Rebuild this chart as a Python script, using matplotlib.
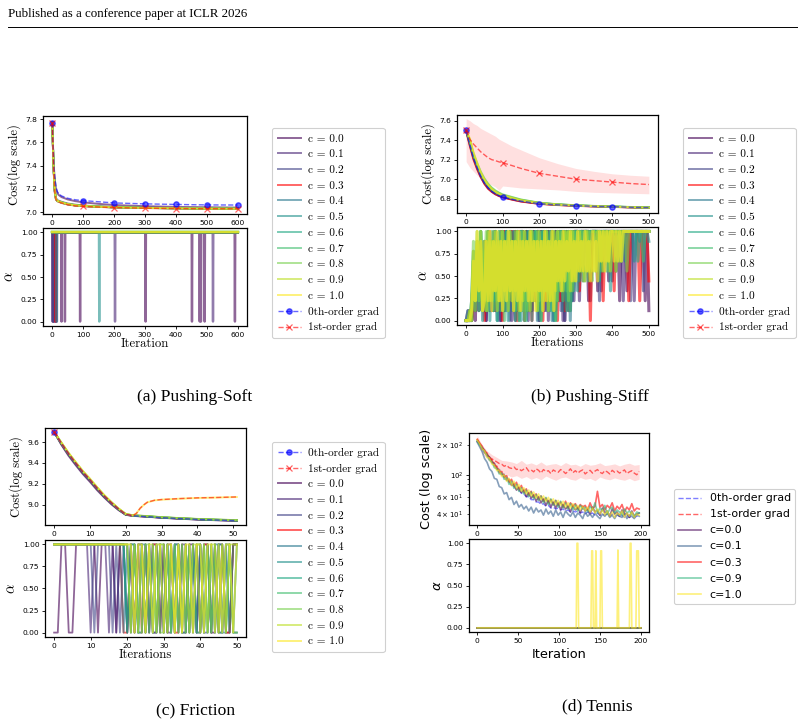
import numpy as np
import matplotlib
matplotlib.use("Agg")
import matplotlib.pyplot as plt
from matplotlib.lines import Line2D

# ====================== DATA ======================
C_VALUES = [0.0, 0.1, 0.2, 0.3, 0.4, 0.5, 0.6, 0.7, 0.8, 0.9, 1.0]
C_LABELS = ["c = %.1f" % c for c in C_VALUES]

# ---- (a) Pushing-Soft ----
SOFT_X = [0, 4, 8, 12, 16, 20, 30, 50, 75, 100, 150, 200, 300, 400, 500, 600]
SOFT_MARK_IDX = [0, 9, 11, 12, 13, 14, 15]
SOFT_ZEROTH = [7.77, 7.45, 7.30, 7.22, 7.18, 7.16, 7.14, 7.12, 7.107, 7.10, 7.09, 7.08, 7.072, 7.067, 7.063, 7.062]
SOFT_FIRST = [7.77, 7.40, 7.18, 7.11, 7.095, 7.09, 7.08, 7.065, 7.055, 7.05, 7.045, 7.04, 7.035, 7.032, 7.03, 7.03]
SOFT_C00 = [7.77, 7.43, 7.28, 7.20, 7.17, 7.15, 7.13, 7.11, 7.095, 7.085, 7.072, 7.062, 7.052, 7.046, 7.043, 7.04]
SOFT_C01 = [7.77, 7.40, 7.19, 7.12, 7.105, 7.10, 7.09, 7.075, 7.065, 7.058, 7.05, 7.045, 7.04, 7.036, 7.033, 7.032]
SOFT_C02 = [7.77, 7.39, 7.18, 7.115, 7.10, 7.095, 7.085, 7.07, 7.06, 7.055, 7.048, 7.043, 7.038, 7.034, 7.032, 7.031]
SOFT_C03 = [7.77, 7.38, 7.17, 7.11, 7.095, 7.09, 7.08, 7.066, 7.057, 7.052, 7.046, 7.041, 7.036, 7.033, 7.031, 7.03]
SOFT_C04 = [7.77, 7.39, 7.18, 7.112, 7.097, 7.092, 7.082, 7.068, 7.058, 7.053, 7.047, 7.042, 7.037, 7.034, 7.031, 7.03]
SOFT_C05 = [7.77, 7.40, 7.185, 7.113, 7.098, 7.093, 7.083, 7.069, 7.059, 7.054, 7.047, 7.042, 7.037, 7.034, 7.032, 7.031]
SOFT_C06 = [7.77, 7.40, 7.19, 7.114, 7.099, 7.094, 7.084, 7.07, 7.06, 7.054, 7.048, 7.043, 7.038, 7.034, 7.032, 7.031]
SOFT_C07 = [7.77, 7.41, 7.19, 7.115, 7.10, 7.095, 7.085, 7.07, 7.06, 7.055, 7.048, 7.043, 7.038, 7.035, 7.032, 7.031]
SOFT_C08 = [7.77, 7.41, 7.195, 7.116, 7.10, 7.095, 7.085, 7.071, 7.061, 7.055, 7.049, 7.044, 7.038, 7.035, 7.033, 7.032]
SOFT_C09 = [7.77, 7.40, 7.19, 7.115, 7.10, 7.094, 7.084, 7.07, 7.06, 7.054, 7.048, 7.043, 7.038, 7.034, 7.032, 7.031]
SOFT_C10 = [7.77, 7.41, 7.19, 7.114, 7.099, 7.093, 7.083, 7.069, 7.059, 7.053, 7.047, 7.042, 7.037, 7.033, 7.031, 7.03]
SOFT_C = [SOFT_C00, SOFT_C01, SOFT_C02, SOFT_C03, SOFT_C04, SOFT_C05,
          SOFT_C06, SOFT_C07, SOFT_C08, SOFT_C09, SOFT_C10]
SOFT_N_ITERS = 601
# iterations at which alpha dropped to 0 (alpha = 1 elsewhere)
SOFT_ALPHA_DROPS = [
    [2, 3, 4, 5, 6, 7, 8, 9, 11, 12, 30, 41, 90, 302, 452, 477, 481, 493, 591],
    [1, 5, 203, 520],
    [3, 13, 15],
    [10],
    [14],
    [152],
    [], [], [], [], [],
]

# ---- (b) Pushing-Stiff ----
STIFF_X = [0, 10, 20, 30, 40, 50, 60, 70, 80, 90, 100, 125, 150, 200, 250, 300, 350, 400, 450, 500]
STIFF_MARK_IDX = [0, 10, 13, 15, 17]
STIFF_ZEROTH = [7.50, 7.36, 7.22, 7.12, 7.03, 6.96, 6.91, 6.875, 6.85, 6.83, 6.817, 6.795, 6.775, 6.749, 6.737, 6.728, 6.722, 6.718, 6.712, 6.708]
STIFF_FIRST = [7.50, 7.41, 7.36, 7.32, 7.28, 7.25, 7.22, 7.20, 7.19, 7.177, 7.168, 7.14, 7.11, 7.06, 7.03, 7.00, 6.985, 6.97, 6.955, 6.945]
STIFF_FIRST_HI = [7.62, 7.60, 7.57, 7.55, 7.52, 7.50, 7.48, 7.46, 7.44, 7.41, 7.39, 7.34, 7.30, 7.22, 7.16, 7.11, 7.08, 7.055, 7.04, 7.03]
STIFF_FIRST_LO = [7.18, 7.12, 7.08, 7.04, 7.01, 6.98, 6.96, 6.94, 6.92, 6.885, 6.93, 6.92, 6.91, 6.90, 6.89, 6.875, 6.865, 6.86, 6.855, 6.85]
STIFF_C00 = [7.50, 7.35, 7.21, 7.11, 7.02, 6.955, 6.905, 6.87, 6.845, 6.828, 6.815, 6.792, 6.772, 6.748, 6.736, 6.727, 6.721, 6.716, 6.711, 6.707]
STIFF_C01 = [7.50, 7.36, 7.22, 7.115, 7.03, 6.96, 6.91, 6.875, 6.85, 6.83, 6.816, 6.794, 6.774, 6.749, 6.737, 6.728, 6.722, 6.717, 6.712, 6.708]
STIFF_C02 = [7.50, 7.36, 7.225, 7.12, 7.035, 6.965, 6.915, 6.88, 6.853, 6.833, 6.819, 6.796, 6.776, 6.75, 6.738, 6.729, 6.722, 6.717, 6.712, 6.708]
STIFF_C03 = [7.49, 7.34, 7.20, 7.10, 7.02, 6.95, 6.90, 6.87, 6.845, 6.826, 6.813, 6.79, 6.77, 6.746, 6.734, 6.726, 6.72, 6.715, 6.71, 6.706]
STIFF_C04 = [7.50, 7.37, 7.23, 7.13, 7.04, 6.97, 6.92, 6.885, 6.86, 6.84, 6.825, 6.80, 6.78, 6.752, 6.739, 6.73, 6.723, 6.718, 6.713, 6.709]
STIFF_C05 = [7.50, 7.38, 7.24, 7.14, 7.05, 6.98, 6.93, 6.89, 6.865, 6.845, 6.83, 6.805, 6.783, 6.754, 6.74, 6.73, 6.724, 6.719, 6.713, 6.709]
STIFF_C06 = [7.50, 7.39, 7.25, 7.15, 7.06, 6.99, 6.94, 6.90, 6.87, 6.85, 6.835, 6.81, 6.786, 6.756, 6.741, 6.731, 6.724, 6.719, 6.714, 6.709]
STIFF_C07 = [7.50, 7.40, 7.26, 7.16, 7.07, 7.00, 6.95, 6.91, 6.88, 6.86, 6.84, 6.815, 6.79, 6.758, 6.742, 6.732, 6.725, 6.72, 6.714, 6.71]
STIFF_C08 = [7.50, 7.41, 7.27, 7.17, 7.08, 7.01, 6.955, 6.915, 6.885, 6.862, 6.845, 6.818, 6.792, 6.759, 6.743, 6.733, 6.726, 6.72, 6.715, 6.71]
STIFF_C09 = [7.50, 7.40, 7.26, 7.15, 7.06, 6.99, 6.94, 6.90, 6.87, 6.85, 6.835, 6.81, 6.785, 6.755, 6.74, 6.73, 6.724, 6.719, 6.713, 6.709]
STIFF_C10 = [7.50, 7.42, 7.28, 7.17, 7.07, 6.995, 6.94, 6.90, 6.87, 6.848, 6.832, 6.806, 6.782, 6.752, 6.738, 6.729, 6.723, 6.718, 6.712, 6.708]
STIFF_C = [STIFF_C00, STIFF_C01, STIFF_C02, STIFF_C03, STIFF_C04, STIFF_C05,
           STIFF_C06, STIFF_C07, STIFF_C08, STIFF_C09, STIFF_C10]
# alpha read every 5 iterations; each digit d means alpha = d / 9
STIFF_ALPHA_STEP = 5
STIFF_ALPHA = [
    "0010305172" "6082719380" "9193929092" "9909193929" "0949293919" "2939094929" "9949999299" "9939999949" "9999299939" "9999999929" "1",
    "0100417263" "8071829280" "9182903918" "1929091939" "9291909481" "9290939192" "9929999949" "9999399999" "4999992999" "9929999999" "9",
    "0001527182" "1738291809" "2918092939" "1909291829" "0939192909" "3919092939" "9999499929" "9992999999" "9959999999" "2999999399" "9",
    "0010216273" "0829181729" "0938291909" "2919390929" "1909293919" "0929191939" "9939999909" "9999929999" "9399999992" "9999929999" "4",
    "0100637281" "6291829083" "9193918290" "9281919390" "9293919082" "9391929094" "9999599959" "9999959999" "9959999699" "9999989999" "9",
    "0002718290" "7190829182" "9390928193" "0919290939" "1928391909" "2939491929" "9399949999" "9959999993" "9999969999" "9969999999" "8",
    "0001527392" "8192819093" "8291839092" "9180939291" "9093918290" "9393919493" "9949999599" "9994999599" "9999699999" "9999699999" "9",
    "0010628193" "7283918291" "9082938190" "9291829391" "8093929180" "9492939194" "9595999499" "9999599969" "9969999999" "9999999699" "9",
    "0002819271" "3918293829" "1829381928" "1908192839" "2819382918" "2939492939" "4959495954" "9599696959" "9999969959" "9999999999" "9",
    "0010728391" "8192839182" "9381928391" "8293819281" "9382918293" "9483959394" "8595849585" "9596959695" "9959699999" "9999999999" "9",
    "0001629381" "2829183928" "1829381829" "1838292818" "3819282918" "4839485948" "4958595849" "5849695969" "9696969999" "9999999999" "9",
]

# ---- (c) Friction ----
FRIC_X = [0, 2, 4, 6, 8, 10, 12, 14, 16, 18, 20, 22, 23, 24, 25, 26, 28, 30, 35, 40, 45, 51]
FRIC_ZEROTH = [9.696, 9.59, 9.49, 9.40, 9.315, 9.24, 9.16, 9.085, 9.02, 8.96, 8.91, 8.897, 8.894, 8.892, 8.89, 8.888, 8.883, 8.878, 8.87, 8.862, 8.856, 8.85]
FRIC_FIRST = [9.696, 9.59, 9.49, 9.40, 9.315, 9.24, 9.16, 9.085, 9.02, 8.96, 8.91, 8.897, 8.92, 8.968, 9.00, 9.025, 9.044, 9.051, 9.06, 9.067, 9.07, 9.076]
FRIC_C00 = [9.696, 9.575, 9.47, 9.38, 9.295, 9.22, 9.14, 9.07, 9.005, 8.95, 8.905, 8.895, 8.893, 8.891, 8.889, 8.887, 8.882, 8.877, 8.868, 8.86, 8.854, 8.848]
FRIC_C01 = [9.696, 9.58, 9.478, 9.388, 9.302, 9.228, 9.148, 9.075, 9.01, 8.953, 8.906, 8.896, 8.894, 8.892, 8.89, 8.888, 8.883, 8.878, 8.869, 8.861, 8.855, 8.849]
FRIC_C02 = [9.696, 9.583, 9.482, 9.392, 9.307, 9.232, 9.152, 9.078, 9.013, 8.955, 8.907, 8.897, 8.895, 8.893, 8.891, 8.889, 8.884, 8.879, 8.87, 8.862, 8.856, 8.85]
FRIC_C03 = [9.696, 9.585, 9.485, 9.395, 9.31, 9.235, 9.155, 9.08, 9.015, 8.957, 8.908, 8.897, 8.895, 8.893, 8.891, 8.889, 8.884, 8.879, 8.871, 8.863, 8.857, 8.851]
FRIC_C04 = [9.696, 9.587, 9.487, 9.397, 9.312, 9.237, 9.157, 9.082, 9.017, 8.958, 8.909, 8.898, 8.896, 8.894, 8.892, 8.89, 8.885, 8.88, 8.871, 8.863, 8.857, 8.851]
FRIC_C05 = [9.696, 9.589, 9.489, 9.399, 9.314, 9.239, 9.159, 9.084, 9.019, 8.959, 8.91, 8.899, 8.897, 8.894, 8.892, 8.89, 8.885, 8.88, 8.872, 8.864, 8.858, 8.852]
FRIC_C06 = [9.696, 9.59, 9.49, 9.40, 9.315, 9.24, 9.16, 9.085, 9.02, 8.96, 8.91, 8.899, 8.897, 8.895, 8.893, 8.891, 8.886, 8.881, 8.872, 8.864, 8.858, 8.852]
FRIC_C07 = [9.696, 9.592, 9.492, 9.403, 9.318, 9.243, 9.163, 9.088, 9.022, 8.962, 8.911, 8.90, 8.898, 8.896, 8.894, 8.892, 8.887, 8.882, 8.873, 8.865, 8.859, 8.853]
FRIC_C08 = [9.696, 9.594, 9.495, 9.406, 9.321, 9.246, 9.166, 9.09, 9.024, 8.963, 8.912, 8.90, 8.898, 8.896, 8.894, 8.892, 8.887, 8.882, 8.873, 8.865, 8.86, 8.854]
FRIC_C09 = [9.696, 9.596, 9.497, 9.408, 9.323, 9.248, 9.168, 9.092, 9.026, 8.965, 8.913, 8.901, 8.899, 8.897, 8.895, 8.893, 8.888, 8.883, 8.874, 8.866, 8.86, 8.854]
FRIC_C10 = [9.696, 9.597, 9.498, 9.41, 9.325, 9.25, 9.17, 9.094, 9.027, 8.966, 8.914, 8.899, 8.921, 8.967, 8.999, 9.024, 9.043, 9.05, 9.059, 9.066, 9.07, 9.075]
FRIC_C = [FRIC_C00, FRIC_C01, FRIC_C02, FRIC_C03, FRIC_C04, FRIC_C05,
          FRIC_C06, FRIC_C07, FRIC_C08, FRIC_C09, FRIC_C10]
# alpha per iteration 0..50 (0 or 1)
FRIC_ALPHA = [
    "0011001111" "1101111011" "0101101001" "0110100110" "1010011001" "1",
    "1111111111" "0111101011" "1010010110" "1001011010" "0110100101" "1",
    "1111111111" "1011110101" "0110101001" "0101101010" "1001010110" "0",
    "1111111111" "1111111110" "0101010110" "1010010101" "0110101001" "1",
    "1111111111" "1111111110" "1010110101" "0101101010" "1010110010" "1",
    "1111111111" "1111111111" "0101101010" "1010100101" "0101011010" "0",
    "1111111111" "1111111111" "0110101011" "0101010101" "1010100101" "1",
    "1111111111" "1111111111" "1010010101" "1010101010" "0101010110" "1",
    "1111111111" "1111111111" "1101011010" "0101010101" "1010101010" "0",
    "1111111111" "1111111111" "1010101101" "1010101011" "0101101011" "1",
    "1111111111" "1111111111" "1101101011" "0110101101" "1011010110" "1",
]

# ---- (d) Tennis ----
TEN_STEP = 3
TEN_ZEROTH = [220, 202, 184, 172, 154, 146, 132, 126, 114, 109, 99, 96, 88, 86, 79, 77, 71, 70, 65, 64, 60, 60, 56, 56, 53, 53, 50, 51, 48, 49, 46, 47, 45, 46, 44, 45, 43, 44, 42, 43, 42, 43, 41, 42, 40, 42, 40, 41, 39, 41, 39, 40, 39, 40, 38, 40, 38, 39, 38, 39, 37, 39, 37, 38, 37, 38, 38]
TEN_FIRST = [232, 205, 180, 168, 160, 150, 145, 140, 135, 130, 128, 122, 125, 118, 116, 120, 113, 115, 110, 114, 118, 109, 112, 107, 115, 111, 104, 113, 108, 110, 103, 112, 108, 106, 113, 109, 103, 108, 115, 105, 110, 104, 109, 112, 102, 107, 111, 104, 109, 113, 106, 103, 110, 107, 102, 111, 106, 109, 104, 108, 112, 103, 107, 110, 104, 100, 108]
TEN_BAND_STEP = 6
TEN_FIRST_HI = [250, 200, 175, 160, 150, 140, 138, 135, 130, 140, 128, 132, 126, 135, 125, 128, 130, 124, 133, 126, 128, 122, 130, 125, 127, 132, 124, 126, 129, 123, 128, 131, 125, 127]
TEN_FIRST_LO = [215, 165, 145, 130, 118, 108, 100, 95, 98, 92, 96, 90, 94, 89, 97, 92, 88, 93, 95, 90, 88, 94, 90, 92, 87, 95, 91, 89, 93, 90, 88, 92, 87, 90]
TEN_C_LABELS = ["c=0.0", "c=0.1", "c=0.3", "c=0.9", "c=1.0"]
TEN_C00 = [218, 206, 186, 178, 158, 152, 134, 131, 114, 113, 100, 101, 88, 90, 78, 82, 70, 75, 66, 71, 60, 66, 58, 63, 54, 60, 52, 57, 49, 55, 47, 53, 46, 52, 44, 50, 45, 48, 42, 49, 44, 47, 41, 48, 43, 45, 40, 47, 42, 44, 39, 46, 41, 43, 38, 45, 40, 42, 38, 44, 39, 41, 37, 43, 38, 40, 41]
TEN_C01 = [214, 192, 172, 146, 134, 115, 108, 92, 90, 76, 74, 64, 66, 56, 59, 50, 54, 47, 50, 45, 48, 43, 47, 41, 46, 42, 44, 39, 45, 40, 43, 38, 44, 39, 42, 37, 43, 40, 38, 42, 37, 41, 39, 36, 42, 38, 40, 37, 41, 38, 36, 40, 38, 41, 37, 39, 36, 40, 38, 37, 41, 36, 39, 38, 36, 40, 38]
TEN_C03 = [228, 210, 195, 174, 166, 145, 141, 124, 122, 105, 108, 94, 98, 84, 90, 76, 84, 70, 78, 66, 72, 62, 68, 59, 64, 56, 61, 54, 58, 52, 56, 50, 55, 49, 53, 47, 54, 46, 52, 48, 51, 45, 50, 47, 49, 44, 52, 45, 48, 68, 47, 50, 44, 49, 46, 52, 43, 48, 45, 50, 42, 47, 44, 51, 43, 46, 45]
TEN_C09 = [222, 200, 188, 168, 160, 140, 136, 118, 116, 102, 104, 90, 94, 80, 86, 73, 80, 68, 74, 64, 70, 60, 67, 57, 63, 55, 61, 52, 59, 50, 57, 49, 55, 47, 54, 46, 52, 45, 51, 44, 50, 43, 49, 45, 47, 42, 48, 44, 52, 41, 46, 43, 49, 40, 45, 47, 41, 44, 42, 39, 45, 41, 43, 40, 38, 42, 41]
TEN_C10 = [224, 206, 182, 176, 150, 148, 128, 126, 110, 112, 96, 100, 86, 92, 78, 86, 72, 80, 68, 74, 64, 70, 61, 67, 58, 64, 56, 61, 54, 59, 52, 57, 50, 55, 49, 54, 47, 52, 46, 51, 45, 49, 44, 48, 43, 47, 42, 46, 41, 45, 40, 44, 39, 43, 38, 42, 37, 41, 39, 43, 37, 41, 38, 42, 37, 40, 39]
TEN_C = [TEN_C00, TEN_C01, TEN_C03, TEN_C09, TEN_C10]
TEN_N_ITERS = 201
# alpha = 0 everywhere except these (iteration, alpha) of c = 1.0
TEN_SPIKES_C10 = [(122, 1.0), (123, 1.0), (140, 0.91), (141, 0.91), (145, 0.91), (151, 0.91),
                  (152, 0.91), (172, 0.92), (187, 1.0), (188, 1.0), (195, 0.91), (196, 0.91), (197, 0.91)]

# ====================== FIGURE ======================
W, H = 804, 725
fig = plt.figure(figsize=(W / 100, H / 100), dpi=100)

def add_ax(x0, y0, x1, y1):
    return fig.add_axes([x0 / W, 1 - y1 / H, (x1 - x0) / W, (y1 - y0) / H])

def ccol(c):
    return "red" if abs(c - 0.3) < 1e-9 else plt.cm.viridis(c)

CM = "cmr10"
SERIF = "Liberation Serif"
LA = 0.6
TICK_FS = 5.4
YLAB_FS = 9.0
XLAB_FS = 9.2

def style(ax, fs=TICK_FS):
    ax.tick_params(labelsize=fs, length=2.5, width=0.6, pad=1.5)
    for s in ax.spines.values():
        s.set_linewidth(0.9)

def alpha_axis(ax):
    ax.set_ylim(-0.05, 1.05)
    ax.set_yticks([0, 0.25, 0.5, 0.75, 1.0])
    ax.set_yticklabels(["0.00", "0.25", "0.50", "0.75", "1.00"])

def push_legend(handles, labels, x0, y0):
    lg = fig.legend(handles, labels, loc="upper left", bbox_to_anchor=(x0 / W, 1 - y0 / H),
                    bbox_transform=fig.transFigure, borderaxespad=0,
                    prop={"family": CM, "size": 8.1}, handlelength=2.1, labelspacing=0.52,
                    handletextpad=0.6, borderpad=0.5, frameon=True, fancybox=True,
                    edgecolor="#d0d0d0", framealpha=1)
    lg.get_frame().set_linewidth(0.8)
    return lg

def zeroth_handle(ax, x, y, marks):
    return ax.plot(x, y, "--", color="blue", marker="o", markevery=marks, ms=3.8, lw=1.0, alpha=LA)[0]

def first_handle(ax, x, y, marks):
    return ax.plot(x, y, "--", color="red", marker="x", markevery=marks, ms=3.8, mew=0.9, lw=1.0, alpha=LA)[0]

# ---------------- (a) Pushing-Soft ----------------
ax = add_ax(43, 116, 247, 214)
hc = []
for c, y in zip(C_VALUES, SOFT_C):
    hc.append(ax.plot(SOFT_X, y, color=ccol(c), lw=1.4, alpha=LA)[0])
h0 = zeroth_handle(ax, SOFT_X, SOFT_ZEROTH, SOFT_MARK_IDX)
h1 = first_handle(ax, SOFT_X, SOFT_FIRST, SOFT_MARK_IDX)
ax.set_xlim(-30, 630)
ax.set_ylim(6.985, 7.826)
ax.set_xticks([0, 100, 200, 300, 400, 500, 600])
ax.set_yticks([7.0, 7.2, 7.4, 7.6, 7.8])
ax.set_ylabel("Cost(log scale)", family=CM, size=YLAB_FS, labelpad=3)
style(ax)

ax = add_ax(43, 228, 247, 326)
it = np.arange(SOFT_N_ITERS)
for c, drops in zip(C_VALUES, SOFT_ALPHA_DROPS):
    a = np.ones(SOFT_N_ITERS)
    a[drops] = 0.0
    ax.plot(it, a, color=ccol(c), lw=1.7, alpha=LA)
ax.set_xlim(-30, 630)
alpha_axis(ax)
ax.set_xticks([0, 100, 200, 300, 400, 500, 600])
ax.set_xlabel("Iteration", family=CM, size=XLAB_FS, labelpad=0.5)
ax.set_ylabel(r"$\alpha$", math_fontfamily="cm", size=10.5, labelpad=3)
style(ax)
push_legend(hc + [h0, h1], C_LABELS + ["0th-order grad", "1st-order grad"], 272, 128)
fig.text(195 / W, 1 - 397 / H, "(a) Pushing-Soft", ha="center", va="center", family=SERIF, size=12.6)

# ---------------- (b) Pushing-Stiff ----------------
ax = add_ax(457, 115, 658, 213)
ax.fill_between(STIFF_X, STIFF_FIRST_LO, STIFF_FIRST_HI, color="#ff9999", alpha=0.3, lw=0)
hc = []
for c, y in zip(C_VALUES, STIFF_C):
    hc.append(ax.plot(STIFF_X, y, color=ccol(c), lw=1.4, alpha=LA)[0])
h0 = zeroth_handle(ax, STIFF_X, STIFF_ZEROTH, STIFF_MARK_IDX)
h1 = first_handle(ax, STIFF_X, STIFF_FIRST, STIFF_MARK_IDX)
ax.set_xlim(-25, 525)
ax.set_ylim(6.653, 7.658)
ax.set_xticks([0, 100, 200, 300, 400, 500])
ax.set_yticks([6.8, 7.0, 7.2, 7.4, 7.6])
ax.set_ylabel("Cost(log scale)", family=CM, size=YLAB_FS, labelpad=3)
style(ax)

ax = add_ax(457, 227, 658, 325)
for c, s in zip(C_VALUES, STIFF_ALPHA):
    vals = np.array([int(ch) for ch in s]) / 9.0
    ax.plot(np.arange(len(vals)) * STIFF_ALPHA_STEP, vals, color=ccol(c), lw=2.2, alpha=LA)
ax.set_xlim(-25, 525)
alpha_axis(ax)
ax.set_xticks([0, 100, 200, 300, 400, 500])
ax.set_xlabel("Iterations", family=CM, size=XLAB_FS, labelpad=0.5)
ax.set_ylabel(r"$\alpha$", math_fontfamily="cm", size=10.5, labelpad=3)
style(ax)
push_legend(hc + [h0, h1], C_LABELS + ["0th-order grad", "1st-order grad"], 683, 128)
fig.text(590 / W, 1 - 397 / H, "(b) Pushing-Stiff", ha="center", va="center", family=SERIF, size=12.6)

# ---------------- (c) Friction ----------------
ax = add_ax(45, 428, 246, 525)
hc = []
for c, y in zip(C_VALUES, FRIC_C):
    hc.append(ax.plot(FRIC_X, y, color=ccol(c), lw=1.4, alpha=LA)[0])
h0 = zeroth_handle(ax, FRIC_X, FRIC_ZEROTH, [0])
h1 = first_handle(ax, FRIC_X, FRIC_FIRST, [0])
ax.set_xlim(-2.55, 53.55)
ax.set_ylim(8.808, 9.734)
ax.set_xticks([0, 10, 20, 30, 40, 50])
ax.set_yticks([9.0, 9.2, 9.4, 9.6])
ax.set_ylabel("Cost(log scale)", family=CM, size=YLAB_FS, labelpad=3)
style(ax)

ax = add_ax(45, 540, 246, 637)
for c, s in zip(C_VALUES, FRIC_ALPHA):
    vals = np.array([int(ch) for ch in s], dtype=float)
    ax.plot(np.arange(len(vals)), vals, color=ccol(c), lw=1.3, alpha=LA)
ax.set_xlim(-2.5, 52.5)
alpha_axis(ax)
ax.set_xticks([0, 10, 20, 30, 40, 50])
ax.set_xlabel("Iterations", family=CM, size=XLAB_FS, labelpad=0.5)
ax.set_ylabel(r"$\alpha$", math_fontfamily="cm", size=10.5, labelpad=3)
style(ax)
push_legend([h0, h1] + hc, ["0th-order grad", "1st-order grad"] + C_LABELS, 272, 442)
fig.text(196 / W, 1 - 711 / H, "(c) Friction", ha="center", va="center", family=SERIF, size=12.6)

# ---------------- (d) Tennis ----------------
TEN_COLORS = [plt.cm.viridis(0.0), plt.cm.viridis(0.3), "red", plt.cm.viridis(0.65), plt.cm.viridis(1.0)]
ax = add_ax(469, 433, 649, 525)
ax.set_yscale("log")
bx = np.arange(len(TEN_FIRST_HI)) * TEN_BAND_STEP
ax.fill_between(bx, TEN_FIRST_LO, TEN_FIRST_HI, color="#ff9999", alpha=0.35, lw=0)
h0 = ax.plot(np.arange(len(TEN_ZEROTH)) * TEN_STEP, TEN_ZEROTH, "--", color="blue", lw=1.0, alpha=0.5)[0]
h1 = ax.plot(np.arange(len(TEN_FIRST)) * TEN_STEP, TEN_FIRST, "--", color="red", lw=1.0, alpha=0.6)[0]
hc = []
for col, y in zip(TEN_COLORS, TEN_C):
    hc.append(ax.plot(np.arange(len(y)) * TEN_STEP, y, color=col, lw=1.2, alpha=LA)[0])
ax.set_xlim(-10, 210)
ax.set_ylim(31, 265)
ax.set_xticks([0, 50, 100, 150, 200])
ax.set_ylabel("Cost (log scale)", size=9.3, labelpad=2)
ax.tick_params(labelsize=5.4, length=2.5, width=0.6, pad=1.5)
ax.tick_params(which="minor", labelsize=5.0, length=1.5, width=0.5)
ax.tick_params(axis="y", which="major", labelsize=5.0)
for s in ax.spines.values():
    s.set_linewidth(0.9)

ax = add_ax(469, 539, 649, 632)
it = np.arange(TEN_N_ITERS)
for i, col in enumerate(TEN_COLORS):
    a = np.zeros(TEN_N_ITERS)
    if i == len(TEN_COLORS) - 1:
        for k, v in TEN_SPIKES_C10:
            a[k] = v
    ax.plot(it, a, color=col, lw=1.2, alpha=LA)
ax.set_xlim(-10, 210)
alpha_axis(ax)
ax.set_xticks([0, 50, 100, 150, 200])
ax.set_xlabel("Iteration", size=9.3, labelpad=3)
ax.set_ylabel(r"$\alpha$", size=9.5, labelpad=2)
ax.tick_params(labelsize=5.4, length=2.5, width=0.6, pad=1.5)
for s in ax.spines.values():
    s.set_linewidth(0.9)
lg = fig.legend([h0, h1] + hc, ["0th-order grad", "1st-order grad"] + TEN_C_LABELS,
                loc="upper left", bbox_to_anchor=(674 / W, 1 - 489 / H), bbox_transform=fig.transFigure,
                borderaxespad=0, prop={"size": 7.9}, handlelength=2.1, labelspacing=0.55,
                handletextpad=0.75, frameon=True, fancybox=True, edgecolor="#d0d0d0", framealpha=1)
lg.get_frame().set_linewidth(0.8)
fig.text(597 / W, 1 - 706 / H, "(d) Tennis", ha="center", va="center", family=SERIF, size=12.6)

# ---------------- page header ----------------
fig.text(8 / W, 1 - 14 / H, "Published as a conference paper at ICLR 2026", ha="left", va="center",
         family=SERIF, size=9.3)
fig.add_artist(Line2D([8 / W, 797 / W], [1 - 27 / H, 1 - 27 / H], color="black", lw=0.7))

fig.savefig("out.png", dpi=100)
